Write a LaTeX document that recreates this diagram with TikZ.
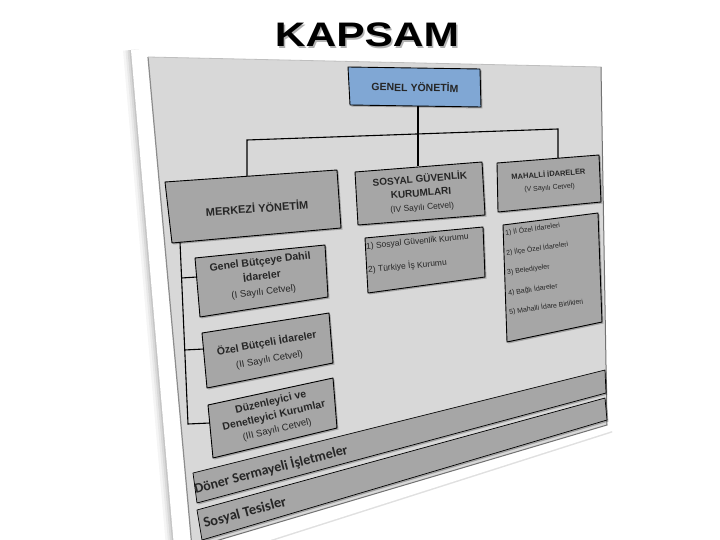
\documentclass[tikz,border=0pt]{standalone}
\usepackage{fontspec}
\setmainfont{Liberation Sans}
\newfontfamily\carl{Carlito}
\definecolor{panelg}{RGB}{216,216,216}
\definecolor{boxg}{RGB}{166,166,166}
\definecolor{blueb}{RGB}{128,167,212}
\newcommand\qbox[5]{%
  \fill[black,opacity=0.25] ([shift={(1.5,1.5)}]#2)--([shift={(1.5,1.5)}]#3)--([shift={(1.5,1.5)}]#4)--([shift={(1.5,1.5)}]#5)--cycle;
  \draw[box,#1] (#2)--(#3)--(#4)--(#5)--cycle;}
\begin{document}
\begin{tikzpicture}[x=1pt,y=-1pt,
  box/.style={fill=boxg,draw=black,line width=0.9pt,line join=round},
  conn/.style={draw=black,line width=1.1pt},
  lbl/.style={inner sep=0pt,align=center,text=black!85},
  item/.style={inner sep=0pt,anchor=west,text=black!85}]
\useasboundingbox (0,0) rectangle (720,540);
% title
\node[inner sep=0pt,text=black!30,xscale=1.25] at (368.5,36.5) {\fontsize{34}{34}\selectfont\bfseries KAPSAM};
\node[inner sep=0pt,xscale=1.25] (title) at (367,35) {\fontsize{34}{34}\selectfont\bfseries KAPSAM};
% sheet and shadow
\coordinate (S1) at (131,50); \coordinate (S2) at (606,61);
\coordinate (S3) at (612,431); \coordinate (S4) at (176,570);
\foreach \w/\o in {16/0.04,11/0.05,7/0.07,3/0.09}
  \draw[line width=\w pt,black,opacity=\o] (S1)--(S4);
\draw[line width=3pt,black,opacity=0.12] (S3)--(S4);
\fill[white] (S1)--(S2)--(S3)--(S4)--cycle;
% panel
\coordinate (P1) at (148,57); \coordinate (P2) at (601,67);
\coordinate (P3) at (607,425); \coordinate (P4) at (192,548);
\fill[panelg] (P1)--(P2)--(P3)--(P4)--cycle;
\draw[black!45,line width=1.2pt] (P1)--(P4);
\draw[black!25,line width=0.8pt] (P1)--(P2);
\draw[black!55,line width=1pt] (P4)--(P3)--(P2);
% boxes
\qbox{fill=blueb}{348,67}{480,69}{481,107}{350,105}
\qbox{}{165,182}{337,170}{341,228}{172,243}
\qbox{}{355,172}{482,162}{485,215}{358,225}
\qbox{}{497,163}{599,155}{601,202}{498,212}
\qbox{}{365,238}{483,227}{485,277}{368,293}
\qbox{}{503,225}{598,213}{602,322}{507,342}
\qbox{}{195,258}{325,245}{328,297}{200,317}
\qbox{}{202,333}{329,313}{333,363}{207,388}
\qbox{}{208,405}{333,378}{337,428}{213,458}
\qbox{line width=0.7pt}{193,473}{605,370}{606,393}{197,503}
\qbox{line width=0.7pt}{197,510}{605,398}{607,420}{202,540}
% connector points
\coordinate (gy) at (418,106);
\coordinate (bus) at (418,134);
\coordinate (busL) at (247,140);
\coordinate (busR) at (558,129);
\coordinate (sgTop) at (418,166);
\coordinate (myTop) at (247,176);
\coordinate (miTop) at (558,158);
\coordinate (myBot) at (180,242);
\coordinate (treeEnd) at (188,424);
\coordinate (t1) at (181.5,278); \coordinate (gbd) at (197,277);
\coordinate (t2) at (184.6,350); \coordinate (obi) at (204,349);
\coordinate (ddk) at (210,423);
\draw[conn] (gy)--(bus);
\draw[conn] (bus)--(sgTop);
\draw[conn] (myTop)--(busL)--(busR)--(miTop);
\draw[conn] (myBot)--(treeEnd)--(ddk);
\draw[conn] (t1)--(gbd);
\draw[conn] (t2)--(obi);
% texts
\node[lbl,rotate=-1,font=\fontsize{10.5}{12}\selectfont\bfseries] (genel) at (415,87) {GENEL YÖNETİM};
\node[lbl,rotate=4,font=\fontsize{11}{13}\selectfont\bfseries] (merkezi) at (257,208) {MERKEZİ YÖNETİM};
\node[lbl,rotate=4.5,font=\fontsize{10}{14}\selectfont\bfseries] (sosyal) at (421,193) {SOSYAL GÜVENLİK\\KURUMLARI\\{\fontsize{8.5}{14}\selectfont\mdseries (IV Sayılı Cetvel)}};
\node[lbl,rotate=4.5,font=\fontsize{7.5}{13}\selectfont\bfseries] (mahalli) at (549,181) {MAHALLİ İDARELER\\{\fontsize{7}{13}\selectfont\mdseries (V Sayılı Cetvel)}};
\node[item,rotate=5.5,font=\fontsize{8.5}{10}\selectfont] (sg1) at (366,247) {1) Sosyal Güvenlik Kurumu};
\node[item,rotate=5.5,font=\fontsize{8.5}{10}\selectfont] (sg2) at (368,270) {2) Türkiye İş Kurumu};
\node[item,rotate=8,font=\fontsize{7}{8}\selectfont] (mi1) at (505,233) {1) İl Özel İdareleri};
\node[item,rotate=8,font=\fontsize{7}{8}\selectfont] (mi2) at (506,253) {2) İlçe Özel İdareleri};
\node[item,rotate=8,font=\fontsize{7}{8}\selectfont] (mi3) at (507,273) {3) Belediyeler};
\node[item,rotate=8,font=\fontsize{7}{8}\selectfont] (mi4) at (508,293) {4) Bağlı İdareler};
\node[item,rotate=8,font=\fontsize{7}{8}\selectfont] (mi5) at (509,312) {5) Mahalli İdare Birlikleri};
\node[lbl,rotate=7,font=\fontsize{10.5}{15}\selectfont\bfseries] (gbdt) at (262,277) {Genel Bütçeye Dahil\\İdareler\\{\fontsize{9.5}{14}\selectfont\mdseries (I Sayılı Cetvel)}};
\node[lbl,rotate=10,font=\fontsize{10.5}{16}\selectfont\bfseries] (obit) at (268,351) {Özel Bütçeli İdareler\\{\fontsize{9.5}{15}\selectfont\mdseries (II Sayılı Cetvel)}};
\node[lbl,rotate=13,font=\fontsize{10.5}{14}\selectfont\bfseries] (ddkt) at (274,416) {Düzenleyici ve\\Denetleyici Kurumlar\\{\fontsize{9.5}{13}\selectfont\mdseries (III Sayılı Cetvel)}};
\node[lbl,rotate=14.5,font=\carl\fontsize{14}{16}\selectfont\bfseries] (dsi) at (271,469) {Döner Sermayeli İşletmeler};
\node[lbl,rotate=15,font=\carl\fontsize{14.5}{16}\selectfont\bfseries] (st) at (245,513) {Sosyal Tesisler};
\end{tikzpicture}
\end{document}
